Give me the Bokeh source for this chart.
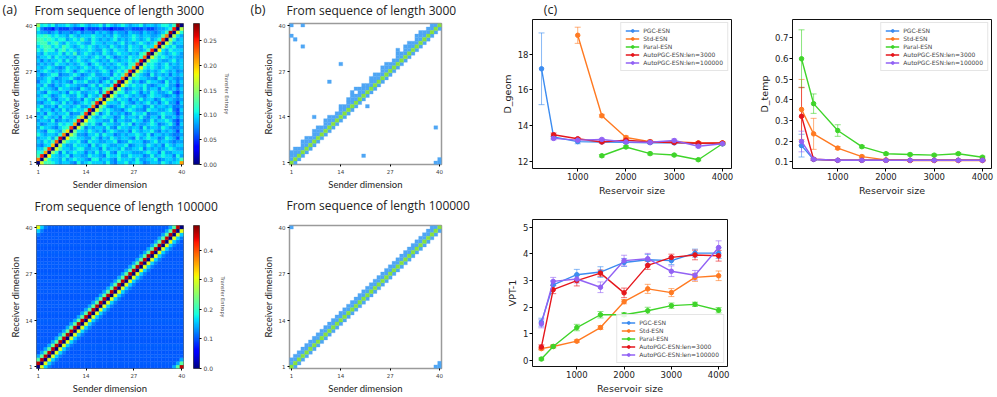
import numpy as np
from bokeh.plotting import figure
from bokeh.models import (Range1d, FixedTicker, Legend, LegendItem, Whisker, TeeHead,
                          ColumnDataSource, LinearColorMapper, LinearAxis, NumeralTickFormatter)
from bokeh.transform import linear_cmap
from bokeh.layouts import row, column
from bokeh.embed import file_html
from bokeh.resources import INLINE
from bokeh.core.properties import value

# ---------------------------------------------------------------- data
dims_ticks = [1, 14, 27, 40]
panel_tags = ["(a)", "(b)", "(c)"]
titles_top = ["From sequence of length 3000", "From sequence of length 3000"]
titles_bottom = ["From sequence of length 100000", "From sequence of length 100000"]

# (a) top: transfer entropy from length-3000 sequence, background levels per row (y=40 .. y=1)
te_short_levels = {'1': 0.04, '2': 0.055, '3': 0.07, '4': 0.082, '5': 0.094, '6': 0.108,
                   '7': 0.122, '8': 0.136}
te_short_grid = [
    "7765645565456545564654565455645545665458",
    "3322132223221322232212223322232234455545",
    "5443453443453443545435443544354434545455",
    "6676565546545556554546544565455445454554",
    "7767656645657546545456454565456454545545",
    "6775675465565446554554564545654556545455",
    "5677565765456565455465454655465456545644",
    "6576646756545565446546554655456545546555",
    "5465556465745654546545655454655465545654",
    "4556465545465545654653454655456545654544",
    "5354556464565456545465455654564565445645",
    "4545465545456535654545654654545654564545",
    "5456543465545654565454565476545654565445",
    "4565454565356545456535654545654545654534",
    "5345663445653456445536546345543645453545",
    "4456534556434565543465454356554436545434",
    "3556454543655644535644356545346554364535",
    "5464354565544356465455344565564345564424",
    "4655436554436545536445563455464553654535",
    "5436554536564455634554364565354654456324",
    "4565345654465365445653456545435655434535",
    "5546435564453654553644655354645534655434",
    "4355654645345655446355465435456453564425",
    "5644536554564435655434564565534645545334",
    "6455354645655534465654435654436554456325",
    "4536545563445465535645453465563445655424",
    "5465453654556354456553464554643553644535",
    "4554634545655436554463554465534645565324",
    "5345546565344556436554465635445653456425",
    "4655435654456354554643655455364554654334",
    "5436654543565465453565445365455643545425",
    "6545543655644355646553454556546355454334",
    "4556465534655446535465455436456553465425",
    "5465534465564365544556344655534564554344",
    "4356645544655536456544556345546545365455",
    "5545436554566445536455464455635454456544",
    "6455543645655354645643655544456553644555",
    "5576454563554465543655644655534645655364",
    "6567554645655436645543655546445563455455",
    "6657654554364565554643556456534554654546",
]
# near-diagonal values, indexed by sender dimension 1..40
te_short_up1 = [0.22, 0.25, 0.21, 0.24, 0.20, 0.23, 0.26, 0.22, 0.19, 0.24, 0.21, 0.25, 0.20, 0.24,
                0.26, 0.22, 0.25, 0.21, 0.27, 0.24, 0.20, 0.26, 0.27, 0.23, 0.22, 0.25, 0.21, 0.24,
                0.26, 0.23, 0.27, 0.25, 0.21, 0.26, 0.24, 0.22, 0.27, 0.25, 0.28, 0.21]
te_short_dn1 = [0.15, 0.17, 0.16, 0.18, 0.15, 0.17, 0.16, 0.15, 0.18, 0.16, 0.14, 0.17, 0.16, 0.18,
                0.15, 0.16, 0.17, 0.15, 0.18, 0.16, 0.17, 0.15, 0.16, 0.18, 0.17, 0.15, 0.16, 0.17,
                0.18, 0.15, 0.16, 0.17, 0.15, 0.18, 0.16, 0.17, 0.15, 0.16, 0.17, 0.16]
te_short_up2 = [0.12, 0.11, 0.13, 0.10, 0.12, 0.12, 0.11, 0.13, 0.12, 0.10, 0.12, 0.13, 0.11, 0.12,
                0.10, 0.13, 0.12, 0.11, 0.12, 0.13, 0.11, 0.12, 0.10, 0.12, 0.13, 0.11, 0.12, 0.12,
                0.11, 0.13, 0.12, 0.10, 0.12, 0.11, 0.13, 0.12, 0.11, 0.12, 0.10, 0.12]
te_short_dn2 = [0.11, 0.10, 0.12, 0.11, 0.10, 0.11, 0.12, 0.10, 0.11, 0.11, 0.12, 0.10, 0.11, 0.12,
                0.11, 0.10, 0.11, 0.12, 0.11, 0.10, 0.12, 0.11, 0.11, 0.10, 0.12, 0.11, 0.10, 0.11,
                0.12, 0.11, 0.10, 0.11, 0.12, 0.11, 0.10, 0.11, 0.12, 0.11, 0.10, 0.11]
te_short_max = 0.284

# (a) bottom: transfer entropy from length-100000 sequence, by circular offset receiver - sender
te_long_offsets = {0: 0.0, 1: 0.455, 2: 0.22, 3: 0.14, 39: 0.30, 38: 0.16, 37: 0.12}
te_long_bg_rows = [0.102, 0.104, 0.103, 0.105, 0.102, 0.104, 0.106, 0.103, 0.104, 0.102,
                   0.105, 0.103, 0.104, 0.106, 0.102, 0.104, 0.103, 0.105, 0.104, 0.102,
                   0.103, 0.105, 0.104, 0.102, 0.106, 0.103, 0.104, 0.102, 0.105, 0.104,
                   0.103, 0.104, 0.106, 0.102, 0.104, 0.103, 0.105, 0.104, 0.102, 0.106]
te_long_max = 0.483

# (b) significant links: width of band above the diagonal per receiver 1..40
sig_short_up = [2, 2, 2, 3, 3, 2, 3, 3, 2, 3, 3, 2, 3, 3, 2, 2, 3, 2, 3, 3,
                2, 3, 3, 2, 3, 3, 2, 3, 3, 2, 2, 3, 2, 3, 3, 2, 3, 3, 2, 2]
sig_short_extra = [(1, 40), (4, 40), (1, 37), (2, 36), (4, 34), (14, 29), (29, 33), (11, 24),
                   (17, 21), (18, 22), (21, 17), (7, 14), (39, 11), (20, 3)]
sig_long_up = [2] * 40
sig_long_extra = []

# (c) reservoir-size sweeps
sizes = [250, 500, 1000, 1500, 2000, 2500, 3000, 3500, 4000]
series_names = ["PGC-ESN", "Std-ESN", "Paral-ESN", "AutoPGC-ESN:len=3000", "AutoPGC-ESN:len=100000"]
series_colors = ["#3c8cf0", "#ff7a22", "#3fd42a", "#e5161c", "#9262f4"]

geom_x = [sizes, sizes[2:], sizes[3:], sizes[1:], sizes[1:]]
geom_y = [[17.18, 13.38, 13.12, 13.10, 13.08, 13.06, 13.05, 13.02, 13.00],
          [19.05, 14.56, 13.35, 13.12, 13.12, 13.05, 13.05],
          [12.33, 12.82, 12.45, 12.37, 12.11, 13.00],
          [13.50, 13.28, 13.10, 13.20, 13.10, 13.07, 13.03, 13.04],
          [13.30, 13.20, 13.24, 13.10, 13.08, 13.18, 12.86, 13.00]]
geom_err = [[2.0, 0.10, 0.12, 0.05, 0.05, 0.05, 0.06, 0.05, 0.05],
            [0.45, 0.08, 0.08, 0.08, 0.06, 0.06, 0.05],
            [0.07, 0.07, 0.07, 0.05, 0.06, 0.05],
            [0.10, 0.06, 0.06, 0.06, 0.05, 0.05, 0.06, 0.05],
            [0.08, 0.08, 0.06, 0.06, 0.08, 0.08, 0.08, 0.05]]

temp_y = [[0.178, 0.111, 0.107, 0.107, 0.107, 0.107, 0.107, 0.107, 0.107],
          [0.353, 0.235, 0.166, 0.125, 0.109, 0.106, 0.106, 0.106, 0.106],
          [0.598, 0.381, 0.251, 0.173, 0.139, 0.135, 0.132, 0.139, 0.122],
          [0.320, 0.112, 0.107, 0.107, 0.107, 0.107, 0.107, 0.107, 0.107],
          [0.198, 0.112, 0.107, 0.107, 0.107, 0.107, 0.107, 0.107, 0.107]]
temp_err = [[0.055, 0.005, 0.003, 0.003, 0.003, 0.003, 0.003, 0.003, 0.003],
            [0.145, 0.075, 0.007, 0.006, 0.003, 0.002, 0.002, 0.002, 0.002],
            [0.140, 0.047, 0.028, 0.006, 0.006, 0.006, 0.005, 0.006, 0.005],
            [0.140, 0.005, 0.003, 0.003, 0.003, 0.003, 0.003, 0.003, 0.003],
            [0.050, 0.004, 0.003, 0.003, 0.003, 0.003, 0.003, 0.003, 0.003]]

vpt_y = [[1.44, 2.84, 3.22, 3.32, 3.68, 3.78, 3.75, 4.03, 4.03],
         [0.45, 0.53, 0.73, 1.24, 2.21, 2.69, 2.55, 3.12, 3.18],
         [0.06, 0.53, 1.24, 1.72, 1.72, 1.87, 2.06, 2.11, 1.89],
         [0.51, 2.66, 3.00, 3.28, 2.54, 3.57, 3.87, 3.96, 3.93],
         [1.38, 2.97, 3.06, 2.75, 3.75, 3.82, 3.35, 3.20, 4.24]]
vpt_err = [[0.15, 0.15, 0.20, 0.20, 0.15, 0.20, 0.15, 0.15, 0.20],
           [0.05, 0.05, 0.05, 0.07, 0.08, 0.17, 0.15, 0.15, 0.18],
           [0.04, 0.05, 0.12, 0.12, 0.07, 0.13, 0.10, 0.08, 0.10],
           [0.08, 0.15, 0.20, 0.12, 0.18, 0.15, 0.12, 0.18, 0.20],
           [0.15, 0.15, 0.15, 0.20, 0.20, 0.20, 0.20, 0.18, 0.25]]

# ---------------------------------------------------------------- styles
JET_R = [(0, 0), (0.35, 0), (0.66, 1), (0.89, 1), (1, 0.5)]
JET_G = [(0, 0), (0.125, 0), (0.375, 1), (0.64, 1), (0.91, 0), (1, 0)]
JET_B = [(0, 0.5), (0.11, 1), (0.34, 1), (0.65, 0), (1, 0)]


def _chan(seg, t):
    return np.interp(t, [s[0] for s in seg], [s[1] for s in seg])


_t = np.linspace(0, 1, 256)
JET = ['#%02x%02x%02x' % (int(round(r * 255)), int(round(g * 255)), int(round(b * 255)))
       for r, g, b in zip(_chan(JET_R, _t), _chan(JET_G, _t), _chan(JET_B, _t))]

SIG_BLUE = "#4fa6f4"
SIG_GREEN = "#86e23e"
TXT = "#222222"
TITLE_FONT = "Open Sans"
LABEL_FONT = "Lato"
MPL_FONT = "DejaVu Sans"


def base_fig(w, h, xr, yr, l, r, t, b):
    p = figure(width=w, height=h, x_range=xr, y_range=yr, output_backend="svg",
               toolbar_location=None, min_border_left=l, min_border_right=r,
               min_border_top=t, min_border_bottom=b)
    p.xgrid.visible = False
    p.ygrid.visible = False
    p.background_fill_color = "white"
    p.border_fill_color = "white"
    return p


def header_fig(w, h, texts):
    # texts: list of (x, y, text, size, align) in pixel units of this strip
    p = base_fig(w, h, Range1d(0, w), Range1d(0, h), 0, 0, 0, 0)
    p.axis.visible = False
    p.outline_line_color = None
    for (x, y, s, size, align) in texts:
        p.text(x=[x], y=[y], text=[s], text_font=value(TITLE_FONT), text_font_size=size,
               text_align=align, text_baseline="middle", text_color=TXT)
    return p


def style_heat_axes(p):
    for ax in (p.xaxis[0], p.yaxis[0]):
        ax.ticker = FixedTicker(ticks=dims_ticks)
        ax.minor_tick_line_color = None
        ax.major_tick_out = 2
        ax.major_tick_in = 0
        ax.axis_line_color = None
        ax.major_label_text_font = MPL_FONT
        ax.major_label_text_font_size = "5.5px"
        ax.major_label_standoff = 2
        ax.axis_label_text_font = LABEL_FONT
        ax.axis_label_text_font_style = "normal"
        ax.axis_label_text_font_size = "9.5px"
        ax.axis_label_standoff = 2
        ax.axis_label_text_color = TXT
    p.xaxis.axis_label = "Sender dimension"
    p.yaxis.axis_label = "Receiver dimension"


def heat_fig(vals_fn, vmax, w, h, l, r, t, b):
    xs, ys, vs = [], [], []
    for y in range(1, 41):
        for x in range(1, 41):
            xs.append(x)
            ys.append(y)
            vs.append(vals_fn(x, y))
    src = ColumnDataSource(dict(x=xs, y=ys, v=vs))
    p = base_fig(w, h, Range1d(0.5, 40.5), Range1d(0.5, 40.5), l, r, t, b)
    cmap = linear_cmap("v", JET, 0, vmax)
    p.rect("x", "y", 1, 1, source=src, fill_color=cmap, line_color=cmap, line_width=0.3)
    p.outline_line_color = "#444444"
    p.outline_line_width = 0.8
    style_heat_axes(p)
    return p


def cbar_fig(vmax, ticks, fmt, w, h, l, r, t, b):
    p = base_fig(w, h, Range1d(0, 1), Range1d(0, vmax), l, r, t, b)
    mapper = LinearColorMapper(palette=JET, low=0, high=vmax)
    p.image(image=[np.linspace(0, vmax, 256).reshape(256, 1)], x=0, y=0, dw=1, dh=vmax,
            color_mapper=mapper)
    p.xaxis.visible = False
    p.yaxis.visible = False
    ax = LinearAxis(ticker=FixedTicker(ticks=ticks), formatter=NumeralTickFormatter(format=fmt),
                    axis_label="Transfer Entropy")
    ax.minor_tick_line_color = None
    ax.major_tick_out = 2
    ax.major_tick_in = 0
    ax.axis_line_color = None
    ax.major_label_text_font = MPL_FONT
    ax.major_label_text_font_size = "6px"
    ax.major_label_standoff = 2
    ax.axis_label_text_font = MPL_FONT
    ax.axis_label_text_font_style = "normal"
    ax.axis_label_text_font_size = "5px"
    ax.axis_label_standoff = 4
    p.add_layout(ax, "right")
    p.outline_line_color = "#222222"
    p.outline_line_width = 0.8
    return p


def sig_fig(up, extra, w, h, l, r, t, b):
    cells = {}
    for y in range(1, 41):
        for k in range(1, up[y - 1] + 1):
            cells[(((y - k - 1) % 40) + 1, y)] = SIG_BLUE
        cells[((y % 40) + 1, y)] = SIG_BLUE
    for (x, y) in extra:
        cells[(x, y)] = SIG_BLUE
    for y in range(1, 41):
        cells[(y, y)] = SIG_GREEN
    src = ColumnDataSource(dict(x=[k[0] for k in cells], y=[k[1] for k in cells],
                                c=list(cells.values())))
    p = base_fig(w, h, Range1d(0.5, 40.5), Range1d(0.5, 40.5), l, r, t, b)
    p.rect("x", "y", 1, 1, source=src, fill_color="c", line_color="c", line_width=0.3)
    p.outline_line_color = "#9a9a9a"
    p.outline_line_width = 1.5
    style_heat_axes(p)
    return p


def line_fig(w, h, l, r, t, b, xs_list, ys_list, es_list, yr, yticks, ylabel, loc, fmt=None):
    p = base_fig(w, h, Range1d(62.5, 4187.5), Range1d(*yr), l, r, t, b)
    items = []
    for name, col, xs, ys, es in zip(series_names, series_colors, xs_list, ys_list, es_list):
        src = ColumnDataSource(dict(x=xs, y=ys, up=[a + e for a, e in zip(ys, es)],
                                    lo=[a - e for a, e in zip(ys, es)]))
        wk = Whisker(source=src, base="x", upper="up", lower="lo", line_color=col,
                     line_alpha=0.6, line_width=1,
                     upper_head=TeeHead(size=6, line_color=col, line_alpha=0.6, line_width=1),
                     lower_head=TeeHead(size=6, line_color=col, line_alpha=0.6, line_width=1))
        p.add_layout(wk)
        ln = p.line("x", "y", source=src, line_color=col, line_width=1.4)
        sc = p.scatter("x", "y", source=src, size=4.5, fill_color=col, line_color=col)
        items.append(LegendItem(label=name, renderers=[ln, sc]))
    leg = Legend(items=items, location=loc, label_text_font=MPL_FONT,
                 label_text_font_size="6px", glyph_width=14, glyph_height=7, label_height=7,
                 spacing=1, padding=4, margin=3, label_standoff=4,
                 border_line_color="#cccccc", border_line_width=1, background_fill_alpha=0.85)
    p.add_layout(leg)
    p.xaxis.ticker = FixedTicker(ticks=[1000, 2000, 3000, 4000])
    p.yaxis.ticker = FixedTicker(ticks=yticks)
    if fmt:
        p.yaxis.formatter = NumeralTickFormatter(format=fmt)
    for ax in (p.xaxis[0], p.yaxis[0]):
        ax.minor_tick_line_color = None
        ax.major_tick_out = 3
        ax.major_tick_in = 0
        ax.axis_line_color = None
        ax.major_label_text_font = MPL_FONT
        ax.major_label_text_font_size = "8.5px"
        ax.major_label_text_color = TXT
        ax.major_label_standoff = 1
        ax.axis_label_text_font = MPL_FONT
        ax.axis_label_text_font_style = "normal"
        ax.axis_label_text_font_size = "9.5px"
        ax.axis_label_text_color = TXT
        ax.axis_label_standoff = 2
    p.xaxis.axis_label = "Reservoir size"
    p.yaxis.axis_label = ylabel
    p.outline_line_color = "#111111"
    p.outline_line_width = 1
    return p


def te_short(x, y):
    d = (y - x) % 40
    if d == 0:
        return 0.0
    if d == 1:
        return te_short_up1[x - 1]
    if d == 39:
        return te_short_dn1[x - 1]
    if d == 2:
        return te_short_up2[x - 1]
    if d == 38:
        return te_short_dn2[x - 1]
    row_s = (te_short_grid[40 - y] + "5" * 40)[:40]
    return te_short_levels.get(row_s[x - 1], 0.094)


def te_long(x, y):
    d = (y - x) % 40
    if d in te_long_offsets:
        return te_long_offsets[d]
    return te_long_bg_rows[y - 1]


# ---------------------------------------------------------------- left block (a, b)
hdr_top = header_fig(480, 19, [(2, 10, panel_tags[0], "12.5px", "left"),
                               (34, 9, titles_top[0], "12px", "left"),
                               (250, 10, panel_tags[1], "12.5px", "left"),
                               (286, 9, titles_top[1], "12px", "left")])
a1 = heat_fig(te_short, te_short_max, 188, 177, 36, 5, 4, 28)
cb1 = cbar_fig(te_short_max, [0, 0.05, 0.1, 0.15, 0.2, 0.25], "0.00", 47, 177, 5, 36, 4, 28)
b1 = sig_fig(sig_short_up, sig_short_extra, 245, 177, 54, 39, 2, 32)

hdr_bot = header_fig(480, 20, [(34, 10, titles_bottom[0], "12px", "left"),
                               (286, 11, titles_bottom[1], "12px", "left")])
a2 = heat_fig(te_long, te_long_max, 188, 180, 36, 5, 7, 27)
cb2 = cbar_fig(te_long_max, [0, 0.1, 0.2, 0.3, 0.4], "0.0", 47, 180, 5, 36, 7, 27)
b2 = sig_fig(sig_long_up, sig_long_extra, 245, 180, 54, 39, 9, 28)

left_block = column(hdr_top, row(a1, cb1, b1), hdr_bot, row(a2, cb2, b2))

# ---------------------------------------------------------------- right block (c)
hdr_c = header_fig(516, 18, [(13, 9, panel_tags[2], "12.5px", "left")])
c1 = line_fig(260, 180, 52, 9, 1, 26, geom_x, geom_y, geom_err, (11.62, 19.93), [12, 14, 16, 18],
              "D_geom", "top_right")
c2 = line_fig(256, 180, 52, 5, 0, 26, [sizes] * 5, temp_y, temp_err, (0.0674, 0.788),
              [0.1, 0.2, 0.3, 0.4, 0.5, 0.6, 0.7], "D_temp", "top_right", fmt="0.0")
c3 = line_fig(260, 198, 52, 13, 21, 26, [sizes] * 5, vpt_y, vpt_err, (-0.22, 5.29),
              [0, 1, 2, 3, 4, 5], "VPT-1", "bottom_right")

right_block = column(hdr_c, row(c1, c2), c3)

layout = row(left_block, right_block)
open("out.html", "w").write(file_html(layout, INLINE))
